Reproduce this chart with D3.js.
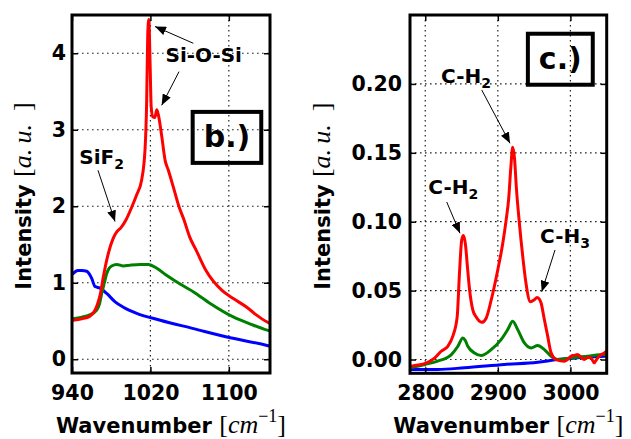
<!DOCTYPE html>
<html>
<head>
<meta charset="utf-8">
<script src="https://cdn.jsdelivr.net/npm/d3@7"></script>
<style>
  body { margin: 0; background: #fff; }
  svg { display: block; }
  text { font-family: "DejaVu Sans", sans-serif; font-weight: bold; fill: #000; }
  .math { font-family: "Liberation Serif", "DejaVu Serif", serif; font-weight: normal; }
  .ital { font-style: italic; }
</style>
</head>
<body>
<svg id="chart" width="631" height="439"></svg>
<script>
// ---------- panel b: Si-O-Si / SiF2 band ----------
const bTicksX = [940, 1020, 1100];
const bTicksY = [0, 1, 2, 3, 4];

const bRedX = [941, 950, 958, 963, 966, 969, 972, 977, 982, 986, 990, 995, 1001, 1006, 1011, 1014.5, 1016.2, 1017.3, 1018.4, 1019.6, 1020.8, 1022.5, 1024.5, 1026.5, 1028, 1031.5, 1035, 1038.3, 1043.4, 1049, 1054.3, 1060, 1066.5, 1076.7, 1093, 1105, 1118.3, 1128, 1138.7, 1142];
const bRedY = [0.51, 0.53, 0.56, 0.63, 0.72, 0.86, 1.08, 1.38, 1.58, 1.67, 1.72, 1.82, 1.99, 2.15, 2.34, 2.74, 3.39, 4.26, 4.44, 3.9, 3.3, 3.17, 3.16, 3.26, 3.2, 2.92, 2.6, 2.47, 2.25, 2.0, 1.82, 1.6, 1.43, 1.16, 0.9, 0.79, 0.68, 0.58, 0.49, 0.47];

const bGreenX = [941, 950, 958, 965, 968, 970.3, 973, 975.4, 978, 980.5, 985.6, 992.4, 999, 1009.5, 1018, 1026.5, 1036, 1047, 1064, 1081, 1105, 1122, 1139, 1142];
const bGreenY = [0.53, 0.55, 0.58, 0.64, 0.72, 0.86, 1.0, 1.12, 1.19, 1.22, 1.24, 1.22, 1.23, 1.24, 1.24, 1.19, 1.10, 1.01, 0.88, 0.73, 0.55, 0.46, 0.38, 0.37];

const bBlueX = [941, 946, 950, 955, 960, 963.5, 968.6, 975.4, 984, 992.4, 1006, 1030, 1064, 1098, 1139, 1142];
const bBlueY = [1.12, 1.16, 1.16, 1.15, 1.06, 0.95, 0.93, 0.86, 0.75, 0.68, 0.60, 0.51, 0.40, 0.29, 0.18, 0.17];

// ---------- panel c: C-H stretching band ----------
const cTicksX = [2800, 2900, 3000];
const cTicksY = [0, 0.05, 0.10, 0.15, 0.20];

const cRedX = [2779, 2790, 2799, 2812.8, 2822, 2831, 2838, 2844, 2847.2, 2850.3, 2852.7, 2855.5, 2858, 2861, 2865.5, 2870, 2877.9, 2883.9, 2890.8, 2899.9, 2906.7, 2911.4, 2915, 2918, 2920.5, 2923, 2925.5, 2929.7, 2934.3, 2938.9, 2944.8, 2950.3, 2954, 2957, 2959.6, 2964.1, 2968.7, 2973.3, 2980.2, 2991.6, 2996, 3000.8, 3005, 3009.9, 3014, 3019.1, 3024, 3028.3, 3032.9, 3036, 3039.8, 3046.6, 3050];
const cRedY = [-0.005, -0.004, -0.003, 0.001, 0.006, 0.0096, 0.017, 0.031, 0.063, 0.087, 0.090, 0.083, 0.068, 0.051, 0.036, 0.031, 0.027, 0.030, 0.043, 0.065, 0.084, 0.101, 0.117, 0.140, 0.154, 0.146, 0.125, 0.099, 0.075, 0.055, 0.042, 0.0434, 0.045, 0.044, 0.041, 0.029, 0.017, 0.005, 0.0, -0.0012, 0.0, 0.0024, 0.003, 0.0036, 0.002, 0.0, 0.0015, 0.0012, -0.0024, 0.0, 0.0024, 0.0048, 0.006];

const cGreenX = [2779, 2799, 2817, 2836, 2845, 2851.7, 2855, 2858.6, 2867.8, 2877, 2890.8, 2904.5, 2913.6, 2920.5, 2927.4, 2936.6, 2945.8, 2954.9, 2964.1, 2973.3, 2982.4, 3000.8, 3023.7, 3046.6, 3050];
const cGreenY = [-0.006, -0.0036, -0.0012, 0.0036, 0.0096, 0.0157, 0.014, 0.0096, 0.0048, 0.0029, 0.0072, 0.0145, 0.0217, 0.0277, 0.0217, 0.012, 0.0084, 0.0101, 0.0072, 0.0024, 0.0, 0.0012, 0.0024, 0.0036, 0.0036];

const cBlueX = [2779, 2817, 2854, 2909, 2955, 2982, 3010, 3047, 3050];
const cBlueY = [-0.0072, -0.0072, -0.006, -0.0036, -0.002, 0.0, 0.0012, 0.0024, 0.0025];

// ---------- drawing ----------
const svg = d3.select("#chart");

const defs = svg.append("defs");
defs.append("marker")
  .attr("id", "arrowhead")
  .attr("markerUnits", "userSpaceOnUse")
  .attr("markerWidth", 12).attr("markerHeight", 9)
  .attr("refX", 11).attr("refY", 4.5)
  .attr("orient", "auto")
  .append("path").attr("d", "M0,0 L11,4.5 L0,9 Z").attr("fill", "#000");

const TICK_FONT = 20.5;

function drawPanel(p) {
  const x = d3.scaleLinear().domain(p.xDomain).range([p.x0, p.x1]);
  const y = d3.scaleLinear().domain(p.yDomain).range([p.y1, p.y0]);
  const g = svg.append("g");

  defs.append("clipPath").attr("id", "clip-" + p.id)
    .append("rect").attr("x", p.x0).attr("y", p.y0)
    .attr("width", p.x1 - p.x0).attr("height", p.y1 - p.y0);

  // dotted grid
  const grid = g.append("g");
  const gridStyle = s => s.attr("stroke", "#222").attr("stroke-width", 1.2)
    .attr("stroke-dasharray", "1.6,3.4").attr("fill", "none");
  grid.selectAll("line.gx").data(p.xTicks).join("line").attr("class", "gx")
    .attr("x1", d => x(d)).attr("x2", d => x(d)).attr("y1", p.y0).attr("y2", p.y1)
    .call(gridStyle);
  grid.selectAll("line.gy").data(p.yTicks).join("line").attr("class", "gy")
    .attr("y1", d => y(d)).attr("y2", d => y(d)).attr("x1", p.x0).attr("x2", p.x1)
    .call(gridStyle);

  // spectra
  const line = d3.line().x(d => x(d[0])).y(d => y(d[1])).curve(d3.curveMonotoneX);
  const lines = g.append("g").attr("clip-path", "url(#clip-" + p.id + ")");
  p.series.forEach(s => {
    lines.append("path").attr("d", line(d3.zip(s.x, s.y)))
      .attr("fill", "none").attr("stroke", s.color).attr("stroke-width", 3)
      .attr("stroke-linejoin", "round").attr("stroke-linecap", "round");
  });

  // ticks on all four sides, pointing inward
  const axes = [
    { ax: d3.axisLeft(y).tickValues(p.yTicks).tickPadding(p.yPad).tickFormat(p.yFmt), t: `translate(${p.x0},0)` },
    { ax: d3.axisRight(y).tickValues(p.yTicks).tickFormat(""), t: `translate(${p.x1},0)` },
    { ax: d3.axisBottom(x).tickValues(p.xTicks).tickPadding(p.xPad).tickFormat(d3.format("d")), t: `translate(0,${p.y1})` },
    { ax: d3.axisTop(x).tickValues(p.xTicks).tickFormat(""), t: `translate(0,${p.y0})` }
  ];
  axes.forEach(a => {
    const ag = g.append("g").attr("transform", a.t)
      .call(a.ax.tickSizeInner(-6).tickSizeOuter(0));
    ag.select(".domain").remove();
    ag.selectAll(".tick line").attr("stroke", "#000").attr("stroke-width", 1.5);
    ag.selectAll(".tick text").attr("font-size", TICK_FONT)
      .style("font-family", '"DejaVu Sans", sans-serif').style("font-weight", "bold").attr("fill", "#000");
  });

  // frame
  g.append("rect").attr("x", p.x0).attr("y", p.y0)
    .attr("width", p.x1 - p.x0).attr("height", p.y1 - p.y0)
    .attr("fill", "none").attr("stroke", "#000").attr("stroke-width", 3);

  // x title: Wavenumber [cm^-1]
  const xt = g.append("text").attr("x", (p.x0 + p.x1) / 2).attr("y", p.xTitleY)
    .attr("text-anchor", "middle").attr("font-size", 21);
  xt.append("tspan").text("Wavenumber ");
  xt.append("tspan").attr("class", "math").attr("font-size", 26).text("[");
  xt.append("tspan").attr("class", "math ital").attr("font-size", 26).text("cm");
  xt.append("tspan").attr("class", "math").attr("font-size", 18).attr("dy", -11).text("\u22121");
  xt.append("tspan").attr("class", "math").attr("font-size", 26).attr("dy", 11).text("]");

  // y title: Intensity [a. u. ]
  const yt = g.append("text")
    .attr("transform", `translate(${p.yTitleX},${(p.y0 + p.y1) / 2 + 2}) rotate(-90)`)
    .attr("text-anchor", "middle").attr("font-size", 21);
  yt.append("tspan").text("Intensity ");
  yt.append("tspan").attr("class", "math").attr("font-size", 26).text("[");
  yt.append("tspan").attr("class", "math ital").attr("font-size", 26).text("a.\u2009u.\u2002");
  yt.append("tspan").attr("class", "math").attr("font-size", 26).text("]");

  return { x, y, g };
}

function arrow(P, tail, tip) {
  P.g.append("line")
    .attr("x1", P.x(tail[0])).attr("y1", P.y(tail[1]))
    .attr("x2", P.x(tip[0])).attr("y2", P.y(tip[1]))
    .attr("stroke", "#000").attr("stroke-width", 1)
    .attr("marker-end", "url(#arrowhead)");
}

function note(P, label, sub, at, tail, tip) {
  const t = P.g.append("text").attr("x", P.x(at[0])).attr("y", P.y(at[1]))
    .attr("text-anchor", "middle").attr("font-size", 20);
  t.append("tspan").text(label);
  if (sub) t.append("tspan").attr("font-size", 14).attr("dy", 5).text(sub);
  arrow(P, tail, tip);
}

function panelTag(P, label, at) {
  const fs = 30;
  const cx = P.x(at[0]), cy = P.y(at[1]);
  const t = P.g.append("text").attr("x", cx).attr("y", cy + 0.31 * fs)
    .attr("text-anchor", "middle").attr("font-size", fs).text(label);
  const w = t.node().getComputedTextLength() + 22;
  const h = 51;
  P.g.append("rect")
    .attr("x", cx - w / 2).attr("y", cy - h / 2).attr("width", w).attr("height", h)
    .attr("fill", "none").attr("stroke", "#000").attr("stroke-width", 4);
}

const B = drawPanel({
  id: "b", x0: 72, x1: 270, y0: 15, y1: 373,
  xDomain: [940, 1142], yDomain: [-0.18, 4.5],
  xTicks: bTicksX, yTicks: bTicksY,
  yFmt: d3.format("d"), yPad: 6, xPad: 12,
  xTitleY: 433, yTitleX: 31,
  series: [
    { x: bBlueX, y: bBlueY, color: "#0000ff" },
    { x: bGreenX, y: bGreenY, color: "#008000" },
    { x: bRedX, y: bRedY, color: "#ff0000" }
  ]
});

const C = drawPanel({
  id: "c", x0: 410, x1: 606.7, y0: 15, y1: 373.3,
  xDomain: [2779, 3050], yDomain: [-0.01, 0.25],
  xTicks: cTicksX, yTicks: cTicksY,
  yFmt: d3.format(".2f"), yPad: 8, xPad: 12,
  xTitleY: 433, yTitleX: 330,
  series: [
    { x: cBlueX, y: cBlueY, color: "#0000ff" },
    { x: cGreenX, y: cGreenY, color: "#008000" },
    { x: cRedX, y: cRedY, color: "#ff0000" }
  ]
});

// peak assignments
note(B, "Si-O-Si", "", [1074.4, 3.885], [1063.8, 4.13], [1024.7, 4.35]);
arrow(B, [1049.2, 3.76], [1031.5, 3.32]);
note(B, "SiF", "2", [970.3, 2.55], [966.5, 2.47], [983.9, 1.80]);

note(C, "C-H", "2", [2856.2, 0.2009], [2877.8, 0.1956], [2916.8, 0.1569]);
note(C, "C-H", "2", [2838.7, 0.1199], [2829.6, 0.1143], [2847.9, 0.0916]);
note(C, "C-H", "3", [2992.6, 0.0843], [2978.8, 0.0795], [2960.5, 0.0492]);

panelTag(B, "b.)", [1098.1, 2.90]);
panelTag(C, "c.)", [2986.1, 0.2179]);
</script>
</body>
</html>
